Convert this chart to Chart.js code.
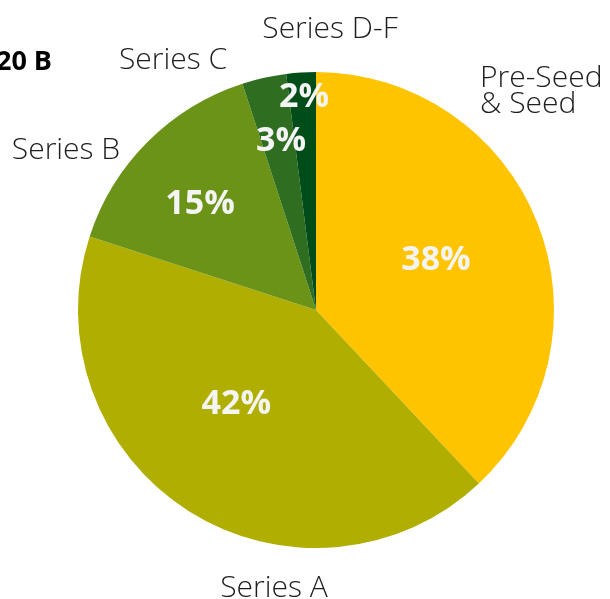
<!DOCTYPE html>
<html>
<head>
<meta charset="utf-8">
<script src="https://cdn.jsdelivr.net/npm/chart.js@4"></script>
<style>
  html, body { margin: 0; padding: 0; background: #fff; }
  canvas { display: block; }
</style>
</head>
<body>
<canvas id="stage-chart" width="610" height="599"></canvas>
<script>
// funding stage shares, clockwise from 12 o'clock
const stages = ['Pre-Seed & Seed', 'Series A', 'Series B', 'Series C', 'Series D-F'];
const shares = [38, 42, 15, 3, 2];
const sliceColors = ['#ffc400', '#b0ae00', '#6a9318', '#2f6e21', '#004d1a'];

// percent label placement: fraction of radius + small turn (degrees) off the slice middle
const labelDepth = [0.546, 0.52, 0.66, 0.725, 0.896];
const labelTurn = [-1, 7.7, -2.6, 0.9, 0.4];

const pctLabels = {
    id: 'pct_labels',
    afterDatasetsDraw: chart => {
        const ctx = chart.ctx;
        const arcs = chart.getDatasetMeta(0).data;
        ctx.save();
        ctx.font = 'bold 34px "Open Sans"';
        ctx.fillStyle = '#f4f4f4';
        ctx.textAlign = 'center';
        ctx.textBaseline = 'middle';
        arcs.forEach((arc, i) => {
            const p = arc.getProps(['x', 'y', 'startAngle', 'endAngle', 'outerRadius']);
            const mid = (p.startAngle + p.endAngle) / 2 + labelTurn[i] * Math.PI / 180;
            const r = p.outerRadius * labelDepth[i];
            ctx.fillText(shares[i] + '%', p.x + Math.cos(mid) * r, p.y + Math.sin(mid) * r);
        });
        ctx.restore();
    },
};

// outside names, hand placed like the original
const nameLabels = {
    id: 'name_labels',
    afterDraw: chart => {
        const ctx = chart.ctx;
        ctx.save();
        ctx.fillStyle = '#1e1e1e';
        ctx.textBaseline = 'alphabetic';
        ctx.font = '300 30px "Open Sans"';
        ctx.textAlign = 'left';
        ctx.fillText('Pre-Seed', 480, 87);
        ctx.fillText('& Seed', 480, 113);
        ctx.textAlign = 'center';
        ctx.fillText('Series A', 274, 597);
        ctx.fillText('Series B', 66, 159);
        ctx.fillText('Series C', 173, 69);
        ctx.fillText('Series D-F', 330, 38);
        ctx.font = 'bold 27px "Open Sans"';
        ctx.fillStyle = '#000';
        ctx.textAlign = 'right';
        ctx.fillText('20 B', 52, 70);
        ctx.restore();
    },
};

new Chart(document.getElementById('stage-chart'), {
    type: 'pie',
    data: {
        labels: stages,
        datasets: [{
            data: shares,
            backgroundColor: sliceColors,
            borderWidth: 0,
        }],
    },
    options: {
        responsive: false,
        animation: false,
        layout: { padding: { left: 78, right: 56, top: 72, bottom: 51 } },
        plugins: {
            legend: { display: false },
            tooltip: { enabled: false },
        },
    },
    plugins: [pctLabels, nameLabels],
});
</script>
</body>
</html>
